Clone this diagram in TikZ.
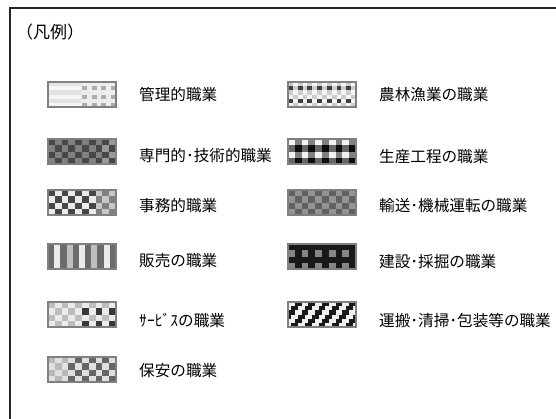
\documentclass[tikz,border=0pt]{standalone}
\usepackage{fontspec}
\setmainfont{Noto Sans CJK JP}
\usepackage{tikz}
\usetikzlibrary{calc}
\tikzset{
  frameline/.style = {line width=1.5pt, black!85},
  swatchedge/.style = {line width=1.2pt, black!50},
  itemtext/.style = {anchor=west, inner sep=0pt, font=\fontsize{15.6pt}{18pt}\selectfont},
  titletext/.style = {anchor=west, inner sep=0pt, font=\fontsize{17pt}{20pt}\selectfont}
}
% swatch: x, top y, columns, rows, grey level as a function of \cx and \ry
\newcommand{\swatch}[5]{%
  \begin{scope}[shift={(#1,#2)}]
    \foreach \cx in {1,...,#3} {
      \foreach \ry in {1,...,#4} {
        \pgfmathtruncatemacro\gv{#5}
        \fill[black!\gv] ({(\cx-1)*68/#3},{(\ry-1)*25/#4}) rectangle ++({68/#3},{25/#4});
      }
    }
    \draw[swatchedge] (0,0) rectangle (68,25);
  \end{scope}}

\begin{document}
\begin{tikzpicture}[x=1pt, y=-1pt]
\useasboundingbox[fill=white] (0,0) rectangle (556,418);
\draw[frameline] (10,430) -- (10,8) -- (570,8);
\node[titletext] (title) at (16,32) {（凡例）};

% left column
\swatch{48}{82}{14}{6}{\cx<8 ? (mod(\ry,2)==0 ? 4 : 11) : ((mod(\cx,2)==0 && mod(\ry,2)==0) ? 32 : 7)}
\node[itemtext] (admin) at (139,95) {管理的職業};
\swatch{48}{139}{10}{4}{mod(\cx+\ry,2)==0 ? 72 : (\cx>8 ? 40 : 50)}
\node[itemtext] (expert) at (139,156) {専門的･技術的職業};
\swatch{48}{190}{10}{4}{mod(\cx+\ry,2)==0 ? (\cx>7 ? 50 : 72) : (\cx>7 ? 22 : 8)}
\node[itemtext] (office) at (139,206) {事務的職業};
\swatch{48}{244}{11}{1}{mod(\cx,2)==1 ? 58 : (mod(\cx,4)==2 ? 8 : 25)}
\node[itemtext] (sales) at (139,261) {販売の職業};
\swatch{48}{302}{10}{4}{(\cx>4 && mod(\cx,2)==0 && mod(\ry,2)==0) ? 78 : (mod(\cx+\ry,2)==0 ? 26 : 8)}
\node[itemtext] (service) at (139,320) {ｻｰﾋﾞｽの職業};
\swatch{48}{357}{10}{4}{mod(\cx+\ry,2)==0 ? (\cx<4 ? 28 : 60) : 12}
\node[itemtext] (security) at (139,371) {保安の職業};

% right column
\swatch{288}{82}{14}{6}{(mod(\ry,3)==2 && mod(\cx,2)==1) ? 75 : (mod(\cx+\ry,2)==0 ? 20 : 4)}
\node[itemtext] (farm) at (379,95) {農林漁業の職業};
\swatch{288}{139}{10}{4}{min(95, (mod(\ry,2)==0 ? 55 : 0) + (mod(\cx,2)==0 ? 45 : 0) + 5)}
\node[itemtext] (production) at (379,157) {生産工程の職業};
\swatch{288}{190}{10}{4}{mod(\cx+\ry,2)==0 ? 62 : 42}
\node[itemtext] (transport) at (379,206) {輸送･機械運転の職業};
\swatch{288}{244}{10}{4}{(mod(\cx,2)==1 && mod(\ry,2)==0) ? 48 : 90}
\node[itemtext] (construction) at (379,262) {建設･採掘の職業};
\swatch{288}{302}{20}{6}{mod(\cx+\ry,4)<2 ? 90 : 6}
\node[itemtext] (haulage) at (379,321) {運搬･清掃･包装等の職業};
\end{tikzpicture}
\end{document}
